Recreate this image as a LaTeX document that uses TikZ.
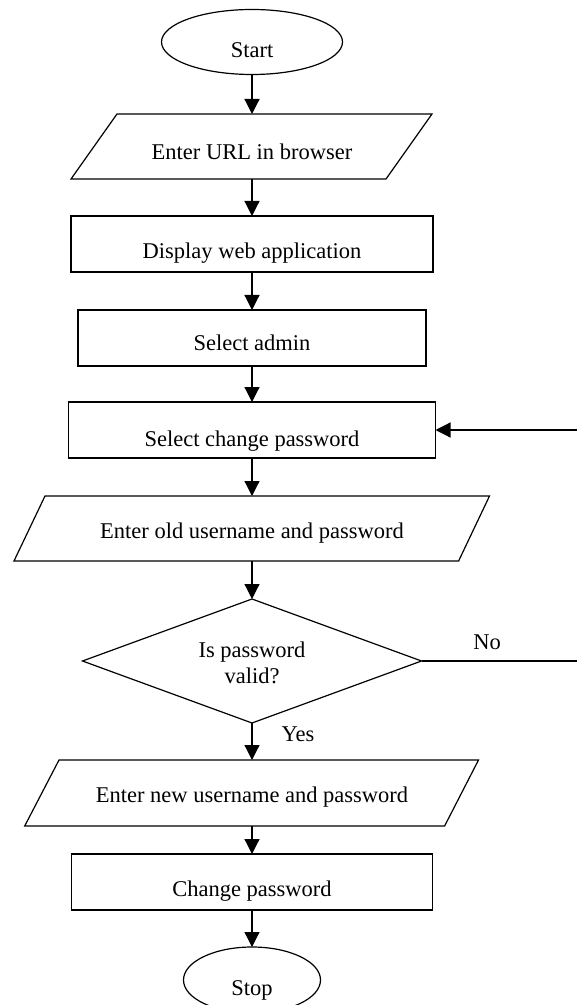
\documentclass[tikz,border=0pt]{standalone}
\usepackage{fontspec}
\setmainfont{Liberation Serif}
\usetikzlibrary{shapes.geometric,arrows.meta}

\begin{document}
\begin{tikzpicture}[x=0.5pt,y=-0.5pt,
  every node/.style={inner sep=0pt,outer sep=0pt},
  txt/.style={anchor=base,font=\fontsize{11.25}{13}\selectfont},
  outline/.style={draw=black,line width=0.6pt},
  terminal/.style={outline,ellipse},
  procbox/.style={outline,rectangle,minimum height=28pt},
  iobox/.style={rectangle,minimum height=32.5pt,minimum width=10pt},
  decision/.style={outline,diamond,minimum width=169.5pt,minimum height=62pt},
  flow/.style={line width=0.6pt,-{Triangle[length=7.5pt,width=7.5pt]}},
  plain/.style={line width=0.6pt}]

\useasboundingbox (0,0) rectangle (577,1005);

% Start
\node[terminal,minimum width=90.5pt,minimum height=32.5pt] (start) at (252,42) {};
\node[txt] (startlbl) at (252,57.3) {Start};

% Input: URL
\draw[outline,line join=miter] (117,114) -- (432,114) -- (386,179) -- (71,179) -- cycle;
\node[iobox] (url) at (252,146.5) {};
\node[txt] (urllbl) at (252,160) {Enter URL in browser};

% Display web application
\node[procbox,minimum width=181pt] (disp) at (252,244) {};
\node[txt] (displbl) at (252,258.3) {Display web application};

% Select admin
\node[procbox,minimum width=174pt] (admin) at (252,338) {};
\node[txt] (adminlbl) at (252,350.8) {Select admin};

% Select change password
\node[procbox,minimum width=183.5pt] (selcp) at (252,430) {};
\node[txt] (selcplbl) at (252,446) {Select change password};

% Input: old credentials
\draw[outline,line join=miter] (45,496) -- (489.5,496) -- (458.6,561) -- (14,561) -- cycle;
\node[iobox] (old) at (252,528.5) {};
\node[txt] (oldlbl) at (252,538.3) {Enter old username and password};

% Decision
\node[decision] (valid) at (252,661) {};
\node[txt] (validlbl1) at (252,657.3) {Is password};
\node[txt] (validlbl2) at (252,683.3) {valid?};

% Input: new credentials
\draw[outline,line join=miter] (59,760) -- (478.5,760) -- (444.6,826) -- (24.7,826) -- cycle;
\node[iobox,minimum height=33pt] (new) at (252,793) {};
\node[txt] (newlbl) at (252,802.7) {Enter new username and password};

% Change password
\node[procbox,minimum width=180.75pt] (chg) at (252,882) {};
\node[txt] (chglbl) at (252,896) {Change password};

% Stop
\node[terminal,minimum width=68.5pt,minimum height=33pt] (stop) at (252,980) {};
\node[txt] (stoplbl) at (252,995) {Stop};

% Main flow
\draw[flow] (start.south) -- (url.north);
\draw[flow] (url.south) -- (disp.north);
\draw[flow] (disp.south) -- (admin.north);
\draw[flow] (admin.south) -- (selcp.north);
\draw[flow] (selcp.south) -- (old.north);
\draw[flow] (old.south) -- (valid.north);
\draw[flow] (valid.south) -- (new.north);
\draw[flow] (new.south) -- (chg.north);
\draw[flow] (chg.south) -- (stop.north);

% Branch labels
\node[txt] (yes) at (298,741.7) {Yes};
\node[txt] (no) at (487,649.3) {No};

% "No" branch and return into change password
\coordinate (noend) at (580,661);
\coordinate (backin) at (580,430);
\draw[plain] (valid.east) -- (noend);
\draw[flow] (backin) -- (selcp.east);

\end{tikzpicture}
\end{document}
